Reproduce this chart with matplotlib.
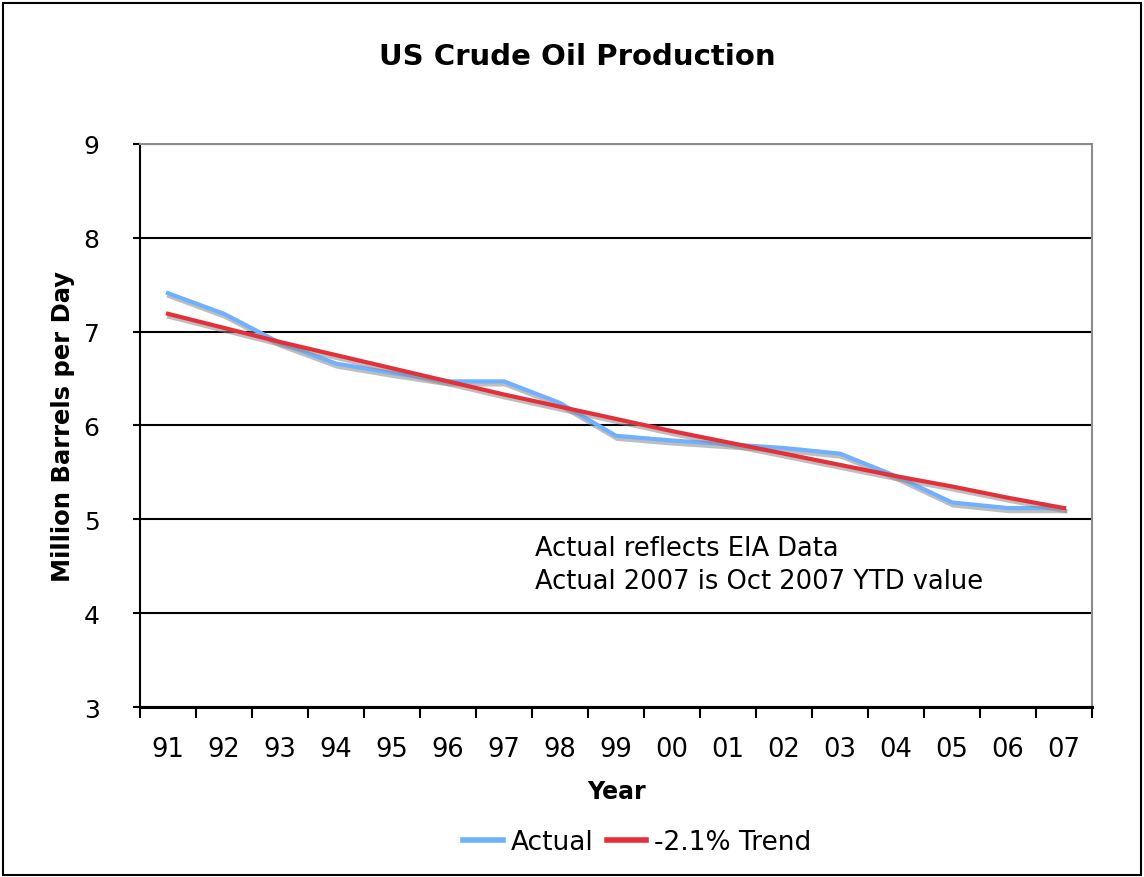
import matplotlib.pyplot as plt
import matplotlib.patheffects as pe
from matplotlib.patches import Rectangle
import numpy as np

plt.rcParams.update({
    "font.family": "DejaVu Sans",
    "font.size": 13,
})

# Datos
years = ['91', '92', '93', '94', '95', '96', '97', '98', '99',
         '00', '01', '02', '03', '04', '05', '06', '07']
actual = [7.41, 7.19, 6.88, 6.66, 6.56, 6.47, 6.47, 6.24, 5.89,
          5.84, 5.80, 5.76, 5.70, 5.46, 5.18, 5.12, 5.12]
trend = [7.19, 7.04, 6.89, 6.75, 6.61, 6.47, 6.33, 6.20, 6.07,
         5.94, 5.82, 5.70, 5.58, 5.46, 5.35, 5.23, 5.12]
yticks = [3, 4, 5, 6, 7, 8, 9]

fig = plt.figure(figsize=(11.44, 8.78), dpi=100)
ax = fig.add_axes([0.1224, 0.1936, 0.8322, 0.6413])

x = np.arange(len(years))
shadow = [pe.SimpleLineShadow(offset=(0.8, -2.2), shadow_color='#8a8a8a', alpha=0.55),
          pe.Normal()]
ax.plot(x, actual, color='#6fb1ff', lw=3.0, label='Actual',
        path_effects=shadow, solid_joinstyle='round', zorder=3)
ax.plot(x, trend, color='#e5303c', lw=3.0, label='-2.1% Trend',
        path_effects=shadow, zorder=4)

ax.set_xlim(-0.5, len(years) - 0.5)
ax.set_ylim(3, 9)
ax.set_yticks(yticks)
ax.set_yticklabels([str(v) for v in yticks], fontsize=18)

# ticks en los bordes de categoría, etiquetas en el centro
ax.set_xticks(np.arange(-0.5, len(years), 1.0))
ax.set_xticklabels([])
ax.set_xticks(x, minor=True)
ax.set_xticklabels(years, minor=True, fontsize=18.5)
ax.tick_params(axis='x', which='major', direction='out', length=8, width=1.5, color='black')
ax.tick_params(axis='x', which='minor', length=0, pad=21)
ax.tick_params(axis='y', direction='out', length=5, width=1.5, pad=24)

ax.grid(axis='y', color='black', lw=1.5)
ax.set_axisbelow(True)
for s in ['top', 'right']:
    ax.spines[s].set_color('#8c8c8c')
    ax.spines[s].set_linewidth(1.5)
ax.spines['left'].set_linewidth(1.5)
ax.spines['bottom'].set_linewidth(2.2)

ax.set_xlabel('Year', fontsize=17, fontweight='bold', labelpad=12)
ax.set_ylabel('Million Barrels per Day', fontsize=17.5, fontweight='bold', labelpad=6)
fig.text(0.505, 0.935, 'US Crude Oil Production', ha='center', va='center',
         fontsize=21, fontweight='bold')

ax.text(0.415, 0.305, 'Actual reflects EIA Data\nActual 2007 is Oct 2007 YTD value',
        transform=ax.transAxes, fontsize=18.5, va='top', ha='left', linespacing=1.32)

leg = fig.legend(loc='center', bbox_to_anchor=(0.557, 0.04), ncol=2, frameon=False,
                 fontsize=19, handlelength=1.5, handletextpad=0.3, columnspacing=0.5)
for h in leg.get_lines():
    h.set_path_effects([])
    h.set_linewidth(4)

fig.patches.append(Rectangle((0.003, 0.002), 0.994, 0.993, transform=fig.transFigure,
                             fill=False, edgecolor='black', lw=1.5))

plt.savefig('out.png', dpi=100)
